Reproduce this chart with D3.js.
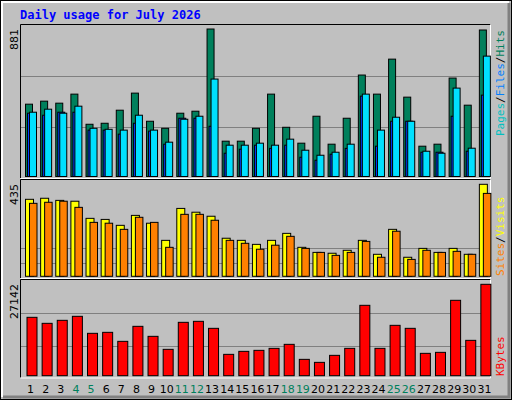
<!DOCTYPE html>
<html><head><meta charset="utf-8">
<script src="https://cdn.jsdelivr.net/npm/d3@7"></script>
<style>body{margin:0;background:#fff}svg{display:block}</style>
</head><body>
<svg id="chart" width="512" height="400"></svg>
<script>
const days = d3.range(1, 32);
const weekend = [4, 5, 11, 12, 18, 19, 25, 26];
const hits = [432,450,438,492,312,318,396,498,330,288,378,390,881,211,211,288,492,294,199,360,193,348,606,492,701,474,181,193,588,426,875];
const files = [384,402,378,420,288,282,277,366,277,205,342,360,582,187,187,199,187,223,157,127,145,193,492,277,354,330,151,139,528,169,719];
const pages = [378,366,384,384,277,277,253,318,271,193,348,348,300,139,163,187,168,187,115,97,133,168,480,181,330,330,145,145,360,151,486];
const visits = [364,369,359,355,274,269,241,288,251,170,321,303,284,180,170,151,170,203,137,113,109,123,170,104,222,90,132,113,132,104,435];
const sites = [345,350,355,326,255,251,222,279,255,137,293,293,265,170,156,128,147,189,132,113,99,113,165,90,213,80,123,113,118,104,392];
const kbytes = [17336,15552,16444,17633,12581,12878,10203,14661,11689,7826,15850,16147,14067,6340,7231,7529,8123,9312,4854,3962,6043,8123,20902,8123,14958,14067,6637,6934,22388,10500,27142];

const svg = d3.select("#chart");
const font = "'DejaVu Sans Mono', monospace";

// frame
svg.append("rect").attr("x", 0.5).attr("y", 0.5).attr("width", 511).attr("height", 399)
  .attr("fill", "#c0c0c0").attr("stroke", "#000");
svg.append("path").attr("d", "M2,397V2H509").attr("fill", "none").attr("stroke", "#fff").attr("stroke-width", 2);
svg.append("path").attr("d", "M3,397H509V3").attr("fill", "none").attr("stroke", "#808080").attr("stroke-width", 3);

svg.append("text").attr("x", 20).attr("y", 19).attr("fill", "#0000ff")
  .attr("font-family", font).attr("font-weight", "bold").attr("font-size", 12)
  .text("Daily usage for July 2026");

const x = d3.scaleBand().domain(days).range([21, 490]);

const panels = [
  { top: 25, bottom: 178, y: d3.scaleLinear().domain([0, 881]).range([176.5, 29]), max: 881,
    grid: [294, 600] },
  { top: 180, bottom: 278, y: d3.scaleLinear().domain([0, 435]).range([276.3, 184.3]), max: 435,
    grid: [63, 134] },
  { top: 280, bottom: 377.5, y: d3.scaleLinear().domain([0, 27142]).range([375.7, 284.3]), max: 27142,
    grid: [8720, 18520] }
];

panels.forEach(p => {
  svg.append("path").attr("d", `M20.5,${p.bottom}V${p.top - 0.5}H490.5`).attr("fill", "none").attr("stroke", "#000");
  svg.append("path").attr("d", `M20.5,${p.bottom + 0.5}H490.5V${p.top - 0.5}`).attr("fill", "none").attr("stroke", "#fff");
  svg.selectAll(null).data(p.grid).enter().append("line")
    .attr("x1", 21).attr("x2", 490)
    .attr("y1", d => Math.round(p.y(d)) + 0.5).attr("y2", d => Math.round(p.y(d)) + 0.5)
    .attr("stroke", "#808080");
  svg.append("text").attr("transform", `translate(18,${p.top + 4}) rotate(-90)`)
    .attr("text-anchor", "end").attr("font-family", "'DejaVu Sans', sans-serif").attr("font-size", 11)
    .text(p.max);
});

function bars(data, panel, dx, w, color) {
  const p = panels[panel];
  svg.append("g").selectAll("rect").data(data).enter().append("rect")
    .attr("x", (d, i) => x(days[i]) + dx + 0.5)
    .attr("y", d => p.y(d))
    .attr("width", w)
    .attr("height", d => p.y(0) - p.y(d))
    .attr("fill", color).attr("stroke", "#000");
}
bars(hits, 0, 4, 7, "#00805c");
bars(pages, 0, 6, 7, "#0040ff");
bars(files, 0, 8, 7, "#00e0ff");
bars(visits, 1, 4, 8, "#ffff00");
bars(sites, 1, 8, 7.5, "#ff8000");
bars(kbytes, 2, 5.5, 10, "#ff0000");

// x labels
svg.selectAll("text.day").data(days).enter().append("text").attr("class", "day")
  .attr("x", d => x(d) + x.bandwidth() / 2 + 2).attr("y", 393)
  .attr("text-anchor", "middle").attr("font-family", "'DejaVu Sans', sans-serif").attr("font-size", 11)
  .attr("fill", d => weekend.includes(d) ? "#00805c" : "#000")
  .text(d => d);

// right legends
function legend(yBottom, parts) {
  const t = svg.append("text").attr("transform", `translate(504,${yBottom}) rotate(-90)`)
    .attr("font-family", font).attr("font-size", 11);
  parts.forEach(([s, c]) => t.append("tspan").attr("fill", c).text(s));
}
legend(136, [["Pages", "#00c0c0"], ["/", "#000"], ["Files", "#0080ff"], ["/", "#000"], ["Hits", "#00805c"]]);
legend(276, [["Sites", "#ff8000"], ["/", "#000"], ["Visits", "#ffff00"]]);
legend(376, [["KBytes", "#ff0000"]]);
</script>
</body></html>
